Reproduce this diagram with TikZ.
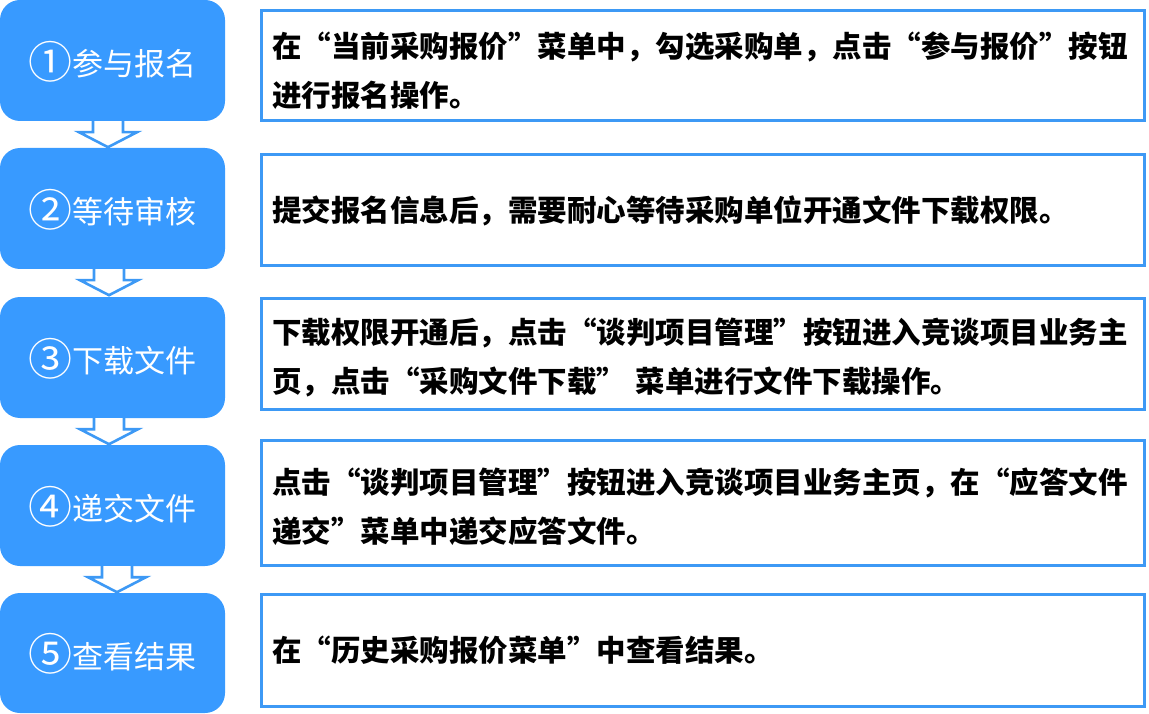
\documentclass[tikz,border=0pt]{standalone}
\usepackage{fontspec}
\setmainfont{Noto Sans CJK SC}
\usetikzlibrary{calc}
\definecolor{stepblue}{RGB}{56,154,255}
\definecolor{lineblue}{RGB}{61,153,245}
\newcommand{\bignum}[1]{\raisebox{-2.5pt}{\fontsize{44}{44}\selectfont #1}}
\newcommand{\steplabel}[2]{\rule{0pt}{37pt}\bignum{#1}#2}
\newcommand{\toppad}{\rule{0pt}{34pt}}
\tikzset{
  stepbox/.style={fill=stepblue, draw=none, rounded corners=20pt, minimum width=225pt, minimum height=121pt, inner sep=0pt, text=white, font=\fontsize{31}{36}\selectfont},
  descbox/.style={draw=lineblue, line width=3pt, minimum width=883pt, inner sep=0pt, text width=862pt, align=left, font=\fontsize{29.5}{49}\selectfont\bfseries},
  downarrow/.pic={
    \fill[white] (-15,0) -- (-15,11) -- (-29,11) -- (0,26) -- (29,11) -- (15,11) -- (15,0) -- cycle;
    \draw[lineblue, line width=2.6pt, line join=miter] (-15,0) -- (-15,11) -- (-29,11) -- (0,26) -- (29,11) -- (15,11) -- (15,0);
  }
}
\begin{document}
\begin{tikzpicture}[x=1pt, y=-1pt]
\useasboundingbox (0,0) rectangle (1149,714);
% step boxes
\node[stepbox] (b1) at (112.5,60.5) {\steplabel{①}{参与报名}};
\node[stepbox] (b2) at (112.5,208.5) {\steplabel{②}{等待审核}};
\node[stepbox] (b3) at (112.5,357.5) {\steplabel{③}{下载文件}};
\node[stepbox] (b4) at (112.5,505.5) {\steplabel{④}{递交文件}};
\node[stepbox, minimum height=120pt] (b5) at (112.5,653) {\steplabel{⑤}{查看结果}};
% description boxes
\node[descbox, minimum height=110pt] (d1) at (703,66) {\toppad 在“当前采购报价”菜单中，勾选采购单，点击“参与报价”按钮\\进行报名操作。};
\node[descbox, minimum height=111pt] (d2) at (703,210.5) {提交报名信息后，需要耐心等待采购单位开通文件下载权限。};
\node[descbox, minimum height=111pt] (d3) at (703,353.5) {\toppad 下载权限开通后，点击“谈判项目管理”按钮进入竞谈项目业务主\\页，点击“采购文件下载” 菜单进行文件下载操作。};
\node[descbox, minimum height=125pt] (d4) at (703,502.5) {\toppad 点击“谈判项目管理”按钮进入竞谈项目业务主页，在“应答文件\\递交”菜单中递交应答文件。};
\node[descbox, minimum height=112pt] (d5) at (703,650) {在“历史采购报价菜单”中查看结果。};
% arrows
\pic at ($(b1.south)+(-4.5,0)$) {downarrow};
\pic at ($(b2.south)+(-3.5,0)$) {downarrow};
\pic at ($(b3.south)+(-3.5,0)$) {downarrow};
\pic at ($(b4.south)+(4.5,0)$) {downarrow};
\end{tikzpicture}
\end{document}
